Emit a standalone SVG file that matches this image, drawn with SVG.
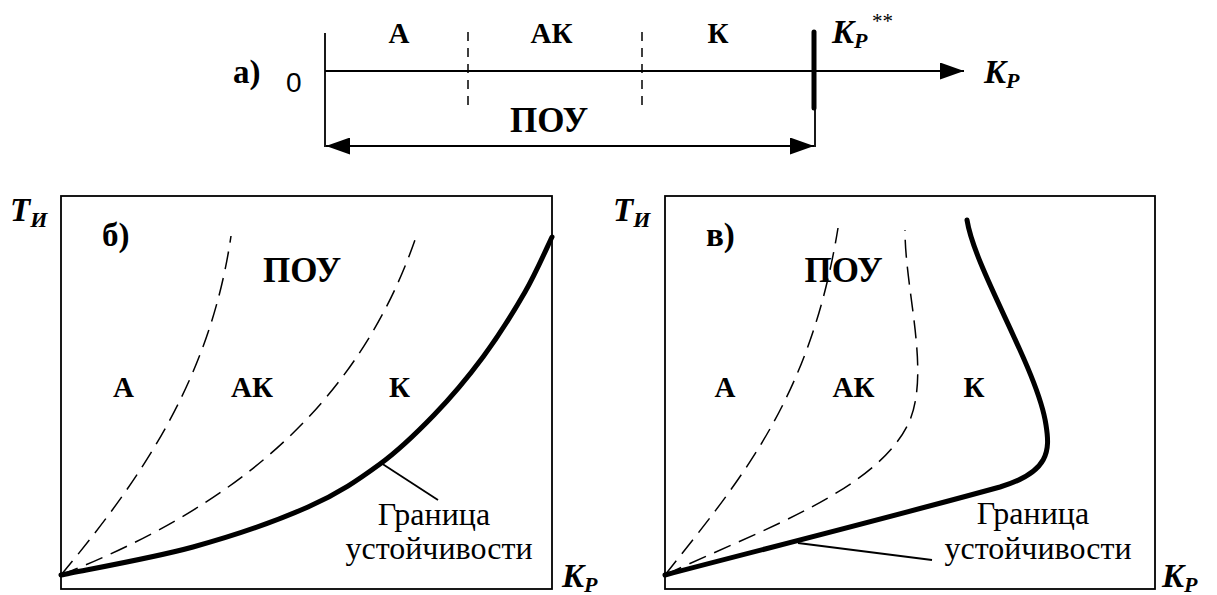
<svg xmlns="http://www.w3.org/2000/svg" width="1217" height="595" viewBox="0 0 1217 595">
<style>
.ln{fill:none;stroke:#000;stroke-width:1.8}
.box{fill:none;stroke:#000;stroke-width:1.8}
.dsh{fill:none;stroke:#000;stroke-width:1.5;stroke-dasharray:18 9}
.dshs{fill:none;stroke:#000;stroke-width:1.5;stroke-dasharray:9 7}
.thk{fill:none;stroke:#000;stroke-width:5;stroke-linecap:round}
.lbl{font-weight:bold;font-size:29px;text-anchor:middle}
.big{font-weight:bold;font-size:35px;text-anchor:middle}
.pan{font-weight:bold;font-size:33px}
.var{font-weight:bold;font-style:italic;font-size:33px}
.sub{font-size:22px}
.reg{font-size:32px;text-anchor:middle}
.ast{font-size:21px}
</style>
<defs>
<marker id="ah" viewBox="0 0 24 17" refX="24" refY="8.5" markerWidth="24" markerHeight="17" markerUnits="userSpaceOnUse" orient="auto-start-reverse">
<path d="M0,0 L24,8.5 L0,17 z" fill="#000"/>
</marker>
</defs>

<g id="panel-a">
<line class="ln" x1="325" y1="33" x2="325" y2="147"/>
<line class="ln" x1="325" y1="71" x2="964" y2="71" marker-end="url(#ah)"/>
<line class="dshs" x1="468" y1="32" x2="468" y2="108"/>
<line class="dshs" x1="642" y1="32" x2="642" y2="108"/>
<line class="thk" x1="814" y1="32" x2="814" y2="108"/>
<line class="ln" x1="815" y1="108" x2="815" y2="147"/>
<line class="ln" x1="326" y1="146" x2="814" y2="146" marker-start="url(#ah)" marker-end="url(#ah)"/>
<g font-family="'Liberation Serif', 'Times New Roman', serif">
<text class="pan" x="233" y="83">а)</text>
<text class="lbl" x="399" y="43">А</text>
<text class="lbl" x="551.5" y="43">АК</text>
<text class="lbl" x="718" y="43">К</text>
<text class="big" x="549" y="132">ПОУ</text>
<text class="var" x="832" y="43">K<tspan class="sub" dy="5">P</tspan></text>
<text class="ast" x="872" y="28">**</text>
<text class="var" x="984" y="83">K<tspan class="sub" dy="5">P</tspan></text>
</g>
<text font-family="'Liberation Sans', Arial, sans-serif" font-size="28" x="286" y="92">0</text>
</g>

<g id="panel-b" font-family="'Liberation Serif', 'Times New Roman', serif">
<rect class="box" x="61" y="196" width="491" height="393"/>
<path class="dsh" d="M61,575 C140,480 210,380 231,236"/>
<path class="dsh" d="M61,575 C200,520 350,430 416,237"/>
<path class="thk" d="M61,575 C83,570.3 151.8,558.3 193,547 C234.2,535.7 276.8,520.8 308,507 C339.2,493.2 359,479.3 380,464 C401,448.7 416.8,432.8 434,415 C451.2,397.2 467.8,377.5 483,357 C498.2,336.5 513.5,312 525,292 C536.5,272 547.5,246.2 552,237"/>
<text class="var" x="10" y="221">T<tspan class="sub" dy="6">И</tspan></text>
<text class="pan" x="102" y="246">б)</text>
<text class="big" x="302" y="282">ПОУ</text>
<text class="lbl" x="123.5" y="397">А</text>
<text class="lbl" x="252" y="397">АК</text>
<text class="lbl" x="399.5" y="397">К</text>
<text class="reg" x="434" y="525">Граница</text>
<text class="reg" x="439" y="559">устойчивости</text>
<text class="var" x="562" y="587">K<tspan class="sub" dy="5">P</tspan></text>
</g>

<g id="panel-c" font-family="'Liberation Serif', 'Times New Roman', serif">
<rect class="box" x="665" y="196" width="490" height="393"/>
<path class="dsh" d="M665,575 C740,480 810,400 838,228"/>
<path class="dsh" d="M665,575 C760,530 880,490 910,420 C930,370 905,290 905,230"/>
<path class="thk" d="M665,575 C760,550 880,520 1000,487 C1050,472 1050,450 1046,425 C1038,370 975,270 967,220"/>
<text class="var" x="613" y="221">T<tspan class="sub" dy="6">И</tspan></text>
<text class="pan" x="706" y="246">в)</text>
<text class="big" x="843.5" y="282">ПОУ</text>
<text class="lbl" x="725" y="397">А</text>
<text class="lbl" x="853.5" y="397">АК</text>
<text class="lbl" x="974" y="397">К</text>
<text class="reg" x="1033" y="524">Граница</text>
<text class="reg" x="1038" y="559">устойчивости</text>
<text class="var" x="1162" y="587">K<tspan class="sub" dy="5">P</tspan></text>
</g>

<g id="connectors">
<line class="ln" x1="381" y1="463" x2="438" y2="500"/>
<line class="ln" x1="798" y1="543" x2="932" y2="560"/>
</g>
</svg>
